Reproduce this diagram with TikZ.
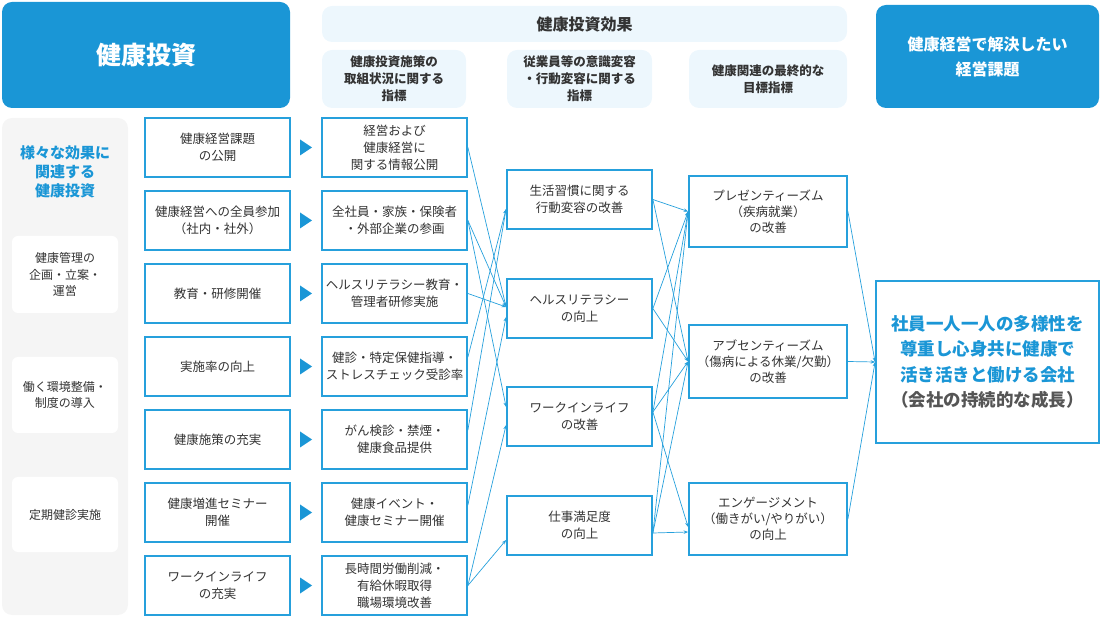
\documentclass[tikz,border=0pt]{standalone}
\usepackage{fontspec}
\setmainfont{Noto Sans CJK JP}
\usetikzlibrary{arrows.meta,positioning}
\definecolor{kblue}{RGB}{26,150,214}
\definecolor{kline}{RGB}{38,160,220}
\definecolor{kpale}{RGB}{237,247,253}
\definecolor{kgray}{RGB}{245,245,245}
\definecolor{ktext}{RGB}{51,51,51}
\definecolor{ksub}{RGB}{85,85,85}
\tikzset{
    headbox/.style={
        fill=kblue,
        rounded corners=10pt,
        text=white,
        align=center,
        inner sep=0pt
    },
    effbox/.style={
        fill=kpale,
        rounded corners=10pt,
        text=ktext,
        align=center,
        inner sep=0pt,
        font=\bfseries\fontsize{12.5}{17}\selectfont
    },
    measure/.style={
        draw=kline,
        line width=1.8pt,
        fill=white,
        text=ktext,
        align=center,
        inner sep=0pt,
        minimum width=145pt,
        minimum height=59pt,
        font=\fontsize{12.5}{17}\selectfont
    },
    target/.style={
        measure,
        minimum width=158pt,
        font=\fontsize{12.5}{16}\selectfont
    },
    areabox/.style={
        fill=white,
        rounded corners=6pt,
        text=ktext,
        align=center,
        minimum width=106pt,
        font=\fontsize{12}{16.5}\selectfont
    },
    link/.style={
        draw=kline,
        line width=0.7pt,
        -{Stealth[length=4.5pt,width=3.5pt]}
    }
}

\begin{document}
\begin{tikzpicture}[x=1pt,y=-1pt]
  \useasboundingbox (0,0) rectangle (1101,617);

  \node[headbox, minimum width=288pt, minimum height=106pt, font=\bfseries\fontsize{25}{30}\selectfont] (invest) at (146,55) {健康投資};
  \node[effbox, minimum width=525pt, minimum height=36pt, font=\bfseries\fontsize{16}{20}\selectfont] (effect) at (584.5,24) {健康投資効果};
  \node[effbox, minimum width=144pt, minimum height=58pt] (head1) at (394,79) {健康投資施策の\\取組状況に関する\\指標};
  \node[effbox, minimum width=145pt, minimum height=58pt] (head2) at (579.5,79) {従業員等の意識変容\\・行動変容に関する\\指標};
  \node[effbox, minimum width=158pt, minimum height=58pt] (head3) at (768,79) {健康関連の最終的な\\目標指標};
  \node[headbox, minimum width=223pt, minimum height=103pt, font=\bfseries\fontsize{16}{25}\selectfont] (issue) at (987.5,56.5) {健康経営で解決したい\\経営課題};

  \node[fill=kgray, rounded corners=10pt, minimum width=126pt, minimum height=497pt] (panel) at (65,366.5) {};
  \node[text=kblue, align=center, font=\bfseries\fontsize{15}{19}\selectfont] (various) at (65,172) {様々な効果に\\関連する\\健康投資};
  \node[areabox, minimum height=77pt] (area1) at (65,274.5) {健康管理の\\企画・立案・\\運営};
  \node[areabox, minimum height=76pt] (area2) at (65,395) {働く環境整備・\\制度の導入};
  \node[areabox, minimum height=75pt] (area3) at (65,514.5) {定期健診実施};

  \foreach \n/\y/\a/\b in {
      1/147.5/{健康経営課題\\の公開}/{経営および\\健康経営に\\関する情報公開},
      2/220.5/{健康経営への全員参加\\（社内・社外）}/{全社員・家族・保険者\\・外部企業の参画},
      3/293.5/{教育・研修開催}/{ヘルスリテラシー教育・\\管理者研修実施},
      4/366.5/{実施率の向上}/{健診・特定保健指導・\\ストレスチェック受診率},
      5/439.5/{健康施策の充実}/{がん検診・禁煙・\\健康食品提供},
      6/512.5/{健康増進セミナー\\開催}/{健康イベント・\\健康セミナー開催},
      7/585.5/{ワークインライフ\\の充実}/{長時間労働削減・\\有給休暇取得\\職場環境改善}} {
    \node[measure] (act\n) at (217.5,\y) {\a};
    \node[measure] (ind\n) at (394.5,\y) {\b};
    \fill[kblue] (300,\y-8) -- (312,\y) -- (300,\y+8) -- cycle;
  }

  \node[measure] (habit) at (579.5,199.5) {生活習慣に関する\\行動変容の改善};
  \node[measure] (literacy) at (579.5,308.5) {ヘルスリテラシー\\の向上};
  \node[measure] (balance) at (579.5,416.5) {ワークインライフ\\の改善};
  \node[measure] (satisfy) at (579.5,525.5) {仕事満足度\\の向上};

  \node[target, minimum height=71pt] (presen) at (768,211.5) {プレゼンティーズム\\（疾病就業）\\の改善};
  \node[target, minimum height=73pt] (absen) at (768,361.5) {アブセンティーズム\\（傷病による休業/欠勤）\\の改善};
  \node[target, minimum height=72pt] (engage) at (768,519) {エンゲージメント\\（働きがい/やりがい）\\の向上};

  \node[measure, minimum width=223pt, minimum height=162pt, text=kblue, font=\bfseries\fontsize{17.5}{25.5}\selectfont] (goal) at (987.5,362) {社員一人一人の多様性を\\尊重し心身共に健康で\\活き活きと働ける会社\\\textcolor{ksub}{（会社の持続的な成長）}};

  \draw[link] (ind1.east) -- ([yshift=1.5pt]literacy.west);
  \draw[link] (ind2.east) -- ([yshift=1.5pt]literacy.west);
  \draw[link] (ind2.east) -- ([yshift=9.5pt]balance.west);
  \draw[link] (ind3.east) -- ([yshift=1.5pt]literacy.west);
  \draw[link] ([yshift=9.5pt]ind4.east) -- ([yshift=-9.5pt]habit.west);
  \draw[link] ([yshift=9.5pt]ind5.east) -- ([yshift=-9.5pt]habit.west);
  \draw[link] ([yshift=7.5pt]ind6.east) -- ([yshift=-8.5pt]literacy.west);
  \draw[link] (ind7.east) -- ([yshift=-8.5pt]balance.west);
  \draw[link] (ind7.east) -- ([yshift=-14.5pt]satisfy.west);

  \draw[link] (habit.east) -- (presen.west);
  \draw[link] (habit.east) -- (absen.west);
  \draw[link] (literacy.east) -- (presen.west);
  \draw[link] (literacy.east) -- (absen.west);
  \draw[link] ([yshift=4.5pt]balance.east) -- (presen.west);
  \draw[link] ([yshift=4.5pt]balance.east) -- (absen.west);
  \draw[link] ([yshift=4.5pt]balance.east) -- ([yshift=-8pt]engage.west);
  \draw[link] ([yshift=-7.5pt]satisfy.east) -- (presen.west);
  \draw[link] ([yshift=-7.5pt]satisfy.east) -- (absen.west);
  \draw[link] ([yshift=-7.5pt]satisfy.east) -- ([yshift=-13pt]engage.west);

  \foreach \s in {presen,absen,engage}
    \draw[link] (\s.east) -- (goal.west);

\end{tikzpicture}
\end{document}
